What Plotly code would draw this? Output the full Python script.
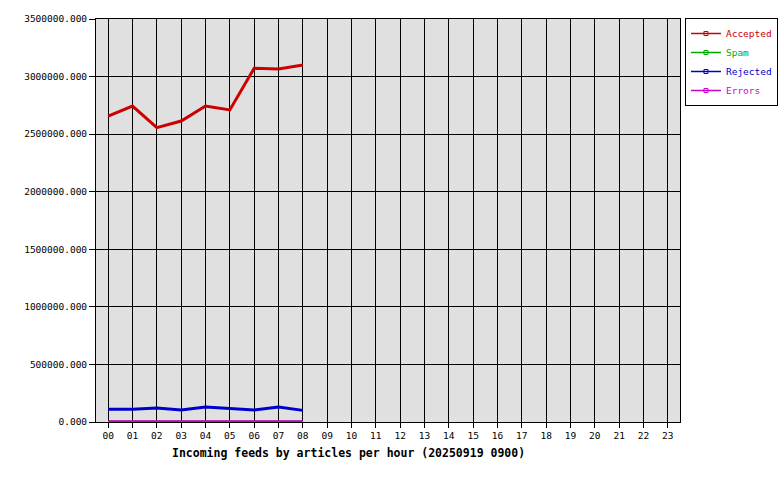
import plotly.graph_objects as go

hours = [f"{h:02d}" for h in range(24)]
observed_hours = hours[:9]
accepted = [2657000, 2744000, 2556000, 2614000, 2744000, 2710000, 3072000, 3066000, 3100000]
spam = [0, 0, 0, 0, 0, 0, 0, 0, 0]
rejected = [110000, 110000, 121000, 104000, 130000, 118000, 104000, 130000, 101000]
errors = [2000, 2000, 2000, 2000, 2000, 2000, 2000, 2000, 2000]
y_ticks = [0, 500000, 1000000, 1500000, 2000000, 2500000, 3000000, 3500000]

series = [
    ("Accepted", accepted, "#cc0000"),
    ("Spam", spam, "#00aa00"),
    ("Rejected", rejected, "#0000cc"),
    ("Errors", errors, "#cc00cc"),
]

MONO = "DejaVu Sans Mono"
fig = go.Figure()
for name, vals, col in series:
    fig.add_trace(go.Scatter(x=observed_hours, y=vals, mode="lines",
                             line=dict(color=col, width=3), showlegend=False,
                             hoverinfo="skip"))
for name, vals, col in series:
    fig.add_trace(go.Scatter(x=[None], y=[None], mode="lines+markers",
                             name=f"<span style='color:{col}'>{name}</span>",
                             line=dict(color=col, width=1.5),
                             marker=dict(symbol="square-open", size=4, color=col,
                                         line=dict(color=col, width=1)),
                             showlegend=True))

fig.update_layout(
    width=780, height=480,
    margin=dict(l=96, r=100, t=19, b=58, autoexpand=False),
    paper_bgcolor="white", plot_bgcolor="#e0e0e0",
    font=dict(family=MONO, size=10, color="black"),
    legend=dict(x=1.0085, y=1.0025, xanchor="left", yanchor="top",
                bordercolor="black", borderwidth=1, bgcolor="white",
                font=dict(family=MONO, size=9.5), itemwidth=30,
                tracegroupgap=0),
    xaxis=dict(type="category", categoryorder="array", categoryarray=hours,
               range=[-0.5, 23.5], tickvals=hours, ticktext=hours,
               showgrid=True, gridcolor="black", gridwidth=1,
               showline=True, linecolor="black", linewidth=1, mirror=True,
               ticks="outside", ticklen=5, tickcolor="black",
               tickfont=dict(family=MONO, size=9.5), zeroline=False),
    yaxis=dict(range=[0, 3500000], tickvals=y_ticks, tickformat=".3f",
               showgrid=True, gridcolor="black", gridwidth=1,
               showline=True, linecolor="black", linewidth=1, mirror=True,
               ticks="outside", ticklen=6, tickcolor="black",
               tickfont=dict(family=MONO, size=9.5), zeroline=False),
    annotations=[dict(text="<b>Incoming feeds by articles per hour (20250919 0900)</b>",
                      xref="paper", yref="paper", x=0.433, y=-0.055,
                      xanchor="center", yanchor="top", showarrow=False,
                      font=dict(family=MONO, size=11.5, color="black"))],
)

fig.write_html("out.html", config={"displayModeBar": False},
               post_script="document.body.style.margin='0';")
